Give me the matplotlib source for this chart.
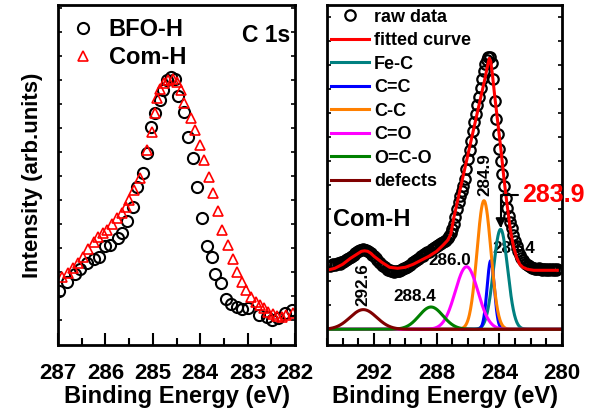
import matplotlib
matplotlib.use('Agg')
import matplotlib.pyplot as plt
import numpy as np
from matplotlib.ticker import MultipleLocator, NullFormatter

plt.rcParams['font.family'] = ['Liberation Sans', 'DejaVu Sans']
plt.rcParams['font.weight'] = 'bold'

# ---- left panel: C 1s of BFO-H and Com-H ----
bfo_x = [286.97, 286.82, 286.64, 286.54, 286.39, 286.25, 286.13, 286.01, 285.90, 285.73,
         285.64, 285.54, 285.41, 285.33, 285.21, 285.13, 285.04, 284.95, 284.85, 284.78,
         284.71, 284.62, 284.53, 284.46, 284.34, 284.25, 284.15, 284.06, 283.96, 283.86,
         283.76, 283.69, 283.57, 283.46, 283.34, 283.23, 283.12, 282.99, 282.77, 282.60,
         282.49, 282.35, 282.21, 282.07]
bfo_y = [54, 63, 71, 76, 82, 86, 88, 99, 100, 107,
         112, 124, 138, 158, 172, 192, 218, 232, 245, 255,
         265, 268, 266, 249, 233, 208, 187, 158, 127, 99,
         88, 71, 62, 46, 41, 38, 36, 37, 30, 28,
         25, 27, 32, 35]

com_x = [286.92, 286.78, 286.68, 286.57, 286.47, 286.36, 286.25, 286.15, 286.06, 285.97,
         285.87, 285.76, 285.66, 285.57, 285.50, 285.40, 285.28, 285.13, 285.02, 284.95,
         284.92, 284.85, 284.76, 284.67, 284.58, 284.50, 284.41, 284.34, 284.19, 284.11,
         284.00, 283.93, 283.81, 283.72, 283.62, 283.53, 283.41, 283.31, 283.22, 283.12,
         283.03, 282.93, 282.82, 282.74, 282.65, 282.56, 282.47, 282.37, 282.28, 282.18,
         282.05]
com_y = [68, 72, 77, 82, 88, 96, 103, 108, 112, 115,
         121, 127, 132, 138, 145, 155, 167, 195, 213, 232,
         247, 256, 262, 265, 266, 263, 255, 242, 227, 215,
         200, 185, 168, 152, 134, 115, 100, 86, 73, 63,
         55, 48, 43, 40, 37, 33, 31, 29, 28, 30,
         32]

# ---- right panel: Com-H peak fitting ----
raw_x = np.round(np.arange(294.8, 280.25, -0.1), 1)
raw_y = [63, 64, 65, 64, 65, 66, 65, 67, 67, 68,
         69, 70, 71, 72, 73, 74, 76, 77, 78, 79,
         79, 80, 79, 79, 78, 77, 76, 74, 73, 71,
         69, 67, 66, 64, 63, 62, 60, 59, 59, 58,
         58, 57, 58, 58, 58, 59, 60, 61, 61, 62,
         63, 64, 66, 67, 68, 69, 70, 71, 73, 73,
         75, 76, 77, 77, 78, 80, 81, 82, 83, 84,
         85, 86, 87, 88, 89, 91, 93, 96, 100, 105,
         112, 120, 127, 133, 138, 143, 150, 160, 170, 179,
         188, 198, 207, 215, 224, 232, 241, 250, 258, 265,
         269, 272, 272, 266, 250, 228, 210, 195, 180, 168,
         155, 143, 131, 121, 113, 107, 101, 94, 88, 83,
         78, 74, 71, 69, 67, 65, 64, 63, 62, 61,
         61, 60, 60, 61, 60, 59, 60, 60, 59, 60,
         59, 60, 59, 60, 59, 60]

fit_x = [295.0, 294.5, 294.0, 293.5, 293.0, 292.8, 292.6, 292.4, 292.2, 292.0,
         291.5, 291.0, 290.5, 290.0, 289.5, 289.0, 288.5, 288.0, 287.6, 287.3,
         287.1, 286.9, 286.6, 286.2, 285.8, 285.4, 285.1, 284.9, 284.8, 284.7,
         284.64, 284.55, 284.45, 284.3, 284.1, 283.9, 283.7, 283.5, 283.3, 283.1,
         282.9, 282.7, 282.5, 282.2, 281.8, 281.0, 280.3]
fit_y = [59, 61, 65, 71, 76, 78, 78.5, 78, 76, 73,
         67, 62, 61, 62, 65, 69, 73, 78, 84, 89,
         95, 112, 133, 161, 189, 217, 238, 252, 260, 267,
         271, 268, 256, 234, 207, 180, 150, 124, 100, 83,
         72, 65, 62, 60, 59, 59, 59]

# fitted components: name, colour, centre (eV), height, FWHM (eV)
comp_names = ['Fe-C', 'C=C', 'C-C', 'C=O', 'O=C-O', 'defects']
comp_colors = ['#008080', '#0000FF', '#FF8000', '#FF00FF', '#008000', '#800000']
comp_center = [283.92, 284.55, 284.98, 286.09, 288.36, 292.68]
comp_height = [100, 68.6, 128.6, 62.6, 22.3, 19.7]
comp_fwhm = [1.06, 0.55, 1.05, 1.7, 1.8, 2.0]

peak_labels = ['292.6', '288.4', '286.0', '284.9', '284.4']
peak_label_x = [292.68, 289.38, 287.17, 284.92, 283.07]
peak_label_y = [23, 33, 69, 133, 81]
peak_label_rot = [90, 0, 0, 90, 0]

fig = plt.figure(figsize=(5.97, 4.11), dpi=100)
ax1 = fig.add_axes([58 / 597, 66 / 411, 237 / 597, 340 / 411])
ax2 = fig.add_axes([327 / 597, 66 / 411, 235 / 597, 340 / 411])

ax1.plot(bfo_x, bfo_y, 'o', ms=8, mfc='none', mec='black', mew=1.5, label='BFO-H')
ax1.plot(com_x, com_y, '^', ms=7.5, mfc='none', mec='red', mew=1.2, label='Com-H')
ax1.set_xlim(287, 282)
ax1.set_ylim(0, 340)
ax1.xaxis.set_major_locator(MultipleLocator(1))
ax1.xaxis.set_minor_locator(MultipleLocator(0.5))
ax1.set_yticks(np.arange(25, 340, 24))
ax1.yaxis.set_major_formatter(NullFormatter())
ax1.set_ylabel('Intensity (arb.units)', fontsize=16, fontweight='bold', labelpad=7)
ax1.legend(loc='upper left', frameon=False, fontsize=17, handlelength=1.0,
           handletextpad=0.6, labelspacing=0.22, borderaxespad=0.35, borderpad=0.2)
ax1.text(0.98, 0.91, 'C 1s', transform=ax1.transAxes, ha='right', va='center',
         fontsize=16.5, fontweight='bold')

ax2.plot(raw_x, raw_y, 'o', ms=7.5, mfc='none', mec='black', mew=1.6, label='raw data')
ax2.plot(fit_x, fit_y, '-', color='red', lw=2.2, label='fitted curve')
e = np.linspace(295, 280, 600)
for name, col, c0, h, w in zip(comp_names, comp_colors, comp_center, comp_height, comp_fwhm):
    s = w / 2.3548
    ax2.plot(e, h * np.exp(-(e - c0) ** 2 / (2 * s ** 2)), color=col, lw=2.2, label=name)
for t, x, y, r in zip(peak_labels, peak_label_x, peak_label_y, peak_label_rot):
    ax2.text(x, y, t, rotation=r, ha='center', va='bottom' if r else 'center',
             fontsize=12.3, fontweight='bold', zorder=1)
ax2.annotate('283.9', xy=(283.92, 101), xytext=(282.56, 134), ha='left', va='center',
             color='red', fontsize=18, fontweight='bold', annotation_clip=False,
             arrowprops=dict(arrowstyle='-|>', color='black', lw=1.5, mutation_scale=14,
                             connectionstyle='angle,angleA=0,angleB=90,rad=0',
                             shrinkA=1, shrinkB=0))
ax2.text(0.026, 0.368, 'Com-H', transform=ax2.transAxes, ha='left', va='center',
         fontsize=17, fontweight='bold')
ax2.set_xlim(295, 280)
ax2.set_ylim(-15.7, 324.3)
ax2.xaxis.set_major_locator(MultipleLocator(4))
ax2.xaxis.set_minor_locator(MultipleLocator(1))
ax2.set_yticks(np.arange(0, 324, 24))
ax2.yaxis.set_major_formatter(NullFormatter())
ax2.legend(loc='upper left', frameon=False, fontsize=13, handlelength=2.1,
           handletextpad=0.3, labelspacing=0.36, borderaxespad=0.1, borderpad=0.1)

for ax in (ax1, ax2):
    for sp in ax.spines.values():
        sp.set_linewidth(2)
    ax.tick_params(axis='x', which='major', direction='in', length=8.5, width=1.5,
                   labelsize=16, pad=13)
    ax.tick_params(axis='x', which='minor', direction='in', length=5, width=1.5)
    ax.tick_params(axis='y', which='major', direction='in', length=3, width=1.2,
                   left=True, right=True)
    ax.set_xlabel('Binding Energy (eV)', fontsize=17, fontweight='bold', labelpad=1)
    for lab in ax.get_xticklabels():
        lab.set_fontweight('bold')

fig.savefig('out.png', dpi=100)
